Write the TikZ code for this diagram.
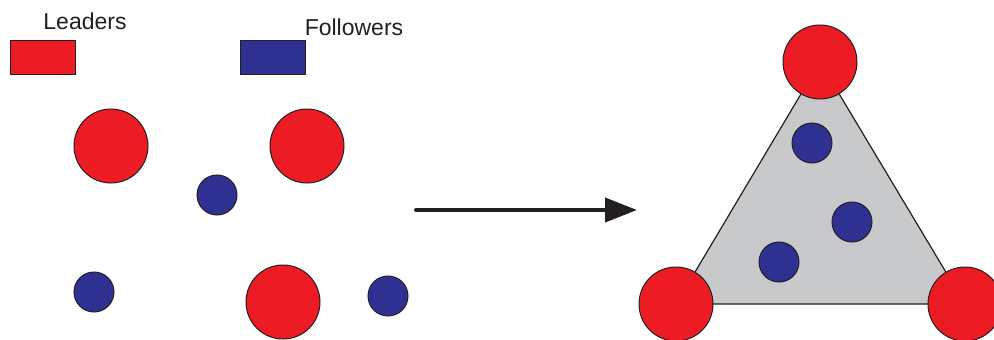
\documentclass[tikz,border=0pt]{standalone}
\usepackage{fontspec}
\setmainfont{Liberation Sans}
\usetikzlibrary{arrows.meta}
\definecolor{lred}{HTML}{ED1C24}
\definecolor{fblue}{HTML}{2E3192}
\definecolor{tgray}{HTML}{C8C9CB}
\definecolor{edge}{HTML}{231F20}
\begin{document}
\begin{tikzpicture}[x=1pt,y=-1pt,
  leader/.style={circle,fill=lred,draw=edge,line width=1pt,minimum size=74pt,inner sep=0pt},
  follower/.style={circle,fill=fblue,draw=edge,line width=1pt,minimum size=40pt,inner sep=0pt},
  legendbox/.style={draw=edge,line width=1pt,minimum width=65pt,minimum height=34pt,inner sep=0pt},
  lbl/.style={font=\fontsize{23pt}{26pt}\selectfont,text=edge,inner sep=0pt}]
\useasboundingbox (0,0) rectangle (994,340);
% legend
\node[lbl] (tl) at (85,21) {Leaders};
\node[lbl] (tf) at (354,27) {Followers};
\node[legendbox,fill=lred] (kl) at (42.5,57) {};
\node[legendbox,fill=fblue] (kf) at (272.5,57) {};
% scattered group
\node[leader] (a1) at (111,146) {};
\node[leader] (a2) at (307,146) {};
\node[leader] (a3) at (283,302) {};
\node[follower] (b1) at (217,195) {};
\node[follower] (b2) at (94,292) {};
\node[follower] (b3) at (388,296) {};
% arrow
\coordinate (s) at (416,210);
\coordinate (e) at (637,210);
\draw[line width=4pt,line cap=round,color=edge,-{Triangle[length=32pt,width=24pt]}] (s) -- (e);
% triangle
\coordinate (v1) at (820,62);
\coordinate (v2) at (676,304);
\coordinate (v3) at (965,304);
\draw[fill=tgray,draw=edge,line width=1.2pt] (v1) -- (v2) -- (v3) -- cycle;
\node[follower] (c1) at (812,143) {};
\node[follower] (c2) at (852,222) {};
\node[follower] (c3) at (779,262) {};
\node[leader] (t1) at (v1) {};
\node[leader] (t2) at (v2) {};
\node[leader] (t3) at (v3) {};
\end{tikzpicture}
\end{document}
